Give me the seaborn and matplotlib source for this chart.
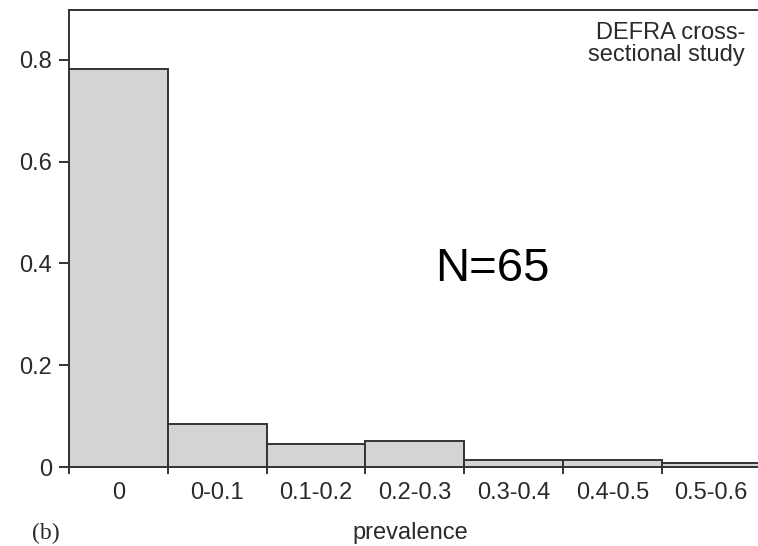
import matplotlib
matplotlib.use("Agg")
import matplotlib.pyplot as plt
import seaborn as sns
import numpy as np
import pandas as pd

categories = ["0", "0-0.1", "0.1-0.2", "0.2-0.3", "0.3-0.4", "0.4-0.5", "0.5-0.6"]
proportions = [0.783, 0.0845, 0.0446, 0.052, 0.0138, 0.0138, 0.0073]
yticks = [0, 0.2, 0.4, 0.6, 0.8]
ytick_labels = ["0", "0.2", "0.4", "0.6", "0.8"]

sns.set_theme(style="white")
plt.rcParams['font.family'] = ['Liberation Sans', 'DejaVu Sans']

W, H = 758, 546
fig = plt.figure(figsize=(W / 100, H / 100), dpi=100)
ax = fig.add_axes([69 / W, (H - 467) / H, (760.7 - 69) / W, (467 - 10) / H])

df = pd.DataFrame({"prevalence": categories, "proportion": proportions})
edge = "#333333"
sns.barplot(data=df, x="prevalence", y="proportion", order=categories,
            color="#d3d4d6", saturation=1, width=1.0, edgecolor=edge,
            linewidth=1.4, ax=ax)

ax.set_xlim(-0.5, 6.5)
ax.set_ylim(0, 0.898)
ax.set_xlabel("")
ax.set_ylabel("")

for s in ["left", "top", "bottom", "right"]:
    ax.spines[s].set_color(edge)
    ax.spines[s].set_linewidth(1.4)

ax.set_yticks(yticks)
ax.set_yticklabels(ytick_labels)
ax.tick_params(axis="y", which="major", left=True, length=7.2, width=1.4,
               color=edge, pad=5, labelsize=17, labelcolor="#2a2a2a")
ax.set_xticks(range(len(categories)))
ax.set_xticklabels(categories)
ax.tick_params(axis="x", which="major", bottom=True, length=0, pad=11,
               labelsize=17, labelcolor="#2a2a2a")
ax.set_xticks(np.arange(-0.5, len(categories), 1.0), minor=True)
ax.tick_params(axis="x", which="minor", bottom=True, length=5.2, width=1.4,
               color=edge, direction="out")

fig.text(745 / W, 1 - 22 / H, "DEFRA cross-\nsectional study", ha="right",
         va="top", fontsize=17, color="#2a2a2a", linespacing=1.0)
fig.text(492 / W, 1 - 281 / H, "N=65", ha="center", va="baseline",
         fontsize=34, color="black")
fig.text(410 / W, 1 - 539 / H, "prevalence", ha="center", va="baseline",
         fontsize=17, color="#2a2a2a")
fig.text(46 / W, 1 - 539 / H, "(b)", ha="center", va="baseline",
         fontsize=17, color="#2a2a2a", family=["Liberation Serif", "DejaVu Serif"])

fig.savefig("out.png", dpi=100)
